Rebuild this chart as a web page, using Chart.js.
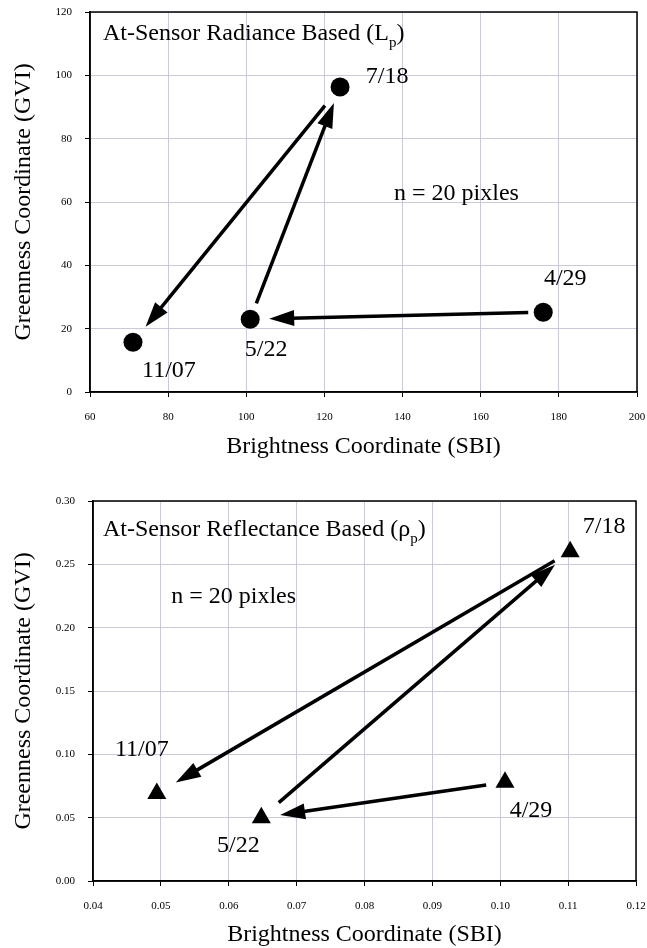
<!DOCTYPE html>
<html>
<head>
<meta charset="utf-8">
<script src="https://cdn.jsdelivr.net/npm/chart.js@4"></script>
<style>
  html, body { margin: 0; padding: 0; background: #fff; }
  .box { position: relative; width: 647px; }
</style>
</head>
<body>
<div class="box" style="height:470px"><canvas id="radiance" width="647" height="470"></canvas></div>
<div class="box" style="height:478px"><canvas id="reflectance" width="647" height="478"></canvas></div>
<script>
// acquisition dates, in time order (arrows follow this order)
const dates = ['4/29', '5/22', '7/18', '11/07'];

// top panel: at-sensor radiance
const radianceSBI = [176, 101, 124, 71];
const radianceGVI = [25.2, 23.0, 96.3, 15.7];
const radianceXTicks = ['60', '80', '100', '120', '140', '160', '180', '200'];
const radianceYTicks = ['0', '20', '40', '60', '80', '100', '120'];

// bottom panel: at-sensor reflectance
const reflectanceSBI = [0.1007, 0.0648, 0.1103, 0.0494];
const reflectanceGVI = [0.078, 0.050, 0.260, 0.069];
const reflectanceXTicks = ['0.04', '0.05', '0.06', '0.07', '0.08', '0.09', '0.10', '0.11', '0.12'];
const reflectanceYTicks = ['0.00', '0.05', '0.10', '0.15', '0.20', '0.25', '0.30'];

const nText = 'n = 20 pixles';
const xTitle = 'Brightness Coordinate (SBI)';
const yTitle = 'Greenness Coordinate (GVI)';

const SERIF = '"Liberation Serif", "Times New Roman", serif';
Chart.defaults.font.family = SERIF;
Chart.defaults.color = '#000';

// arrow from p to q, leaving a gap (px) at both ends
function arrow(ctx, p, q, gap) {
    let dx = q[0] - p[0], dy = q[1] - p[1];
    let len = Math.hypot(dx, dy);
    let ux = dx / len, uy = dy / len;
    let sx = p[0] + ux * gap[0], sy = p[1] + uy * gap[0];
    let ex = q[0] - ux * gap[1], ey = q[1] - uy * gap[1];
    let head = 25, half = 8;
    let bx = ex - ux * head, by = ey - uy * head;
    ctx.beginPath();
    ctx.moveTo(sx, sy);
    ctx.lineTo(bx + ux * 3, by + uy * 3);
    ctx.stroke();
    ctx.beginPath();
    ctx.moveTo(ex, ey);
    ctx.lineTo(bx - uy * half, by + ux * half);
    ctx.lineTo(bx + uy * half, by - ux * half);
    ctx.closePath();
    ctx.fill();
}

// frame, arrows, date labels and panel captions
const annotate = {
    id: 'annotate',
    afterDraw(chart, args, opts) {
        let {ctx, chartArea: a, scales: {x, y}} = chart;
        let pts = chart.data.datasets[0].data.map(d => [x.getPixelForValue(d.x), y.getPixelForValue(d.y)]);
        ctx.save();
        ctx.strokeStyle = '#000';
        ctx.fillStyle = '#000';
        ctx.lineWidth = 1.5;
        ctx.strokeRect(a.left, a.top, a.right - a.left, a.bottom - a.top);

        ctx.lineWidth = 3.5;
        for (let i = 0; i < pts.length - 1; i++) arrow(ctx, pts[i], pts[i + 1], opts.gaps[i]);

        ctx.font = '24px ' + SERIF;
        ctx.textAlign = 'center';
        ctx.textBaseline = 'middle';
        dates.forEach((d, i) => {
            let o = opts.offsets[d];
            ctx.fillText(d, pts[i][0] + o[0], pts[i][1] + o[1]);
        });
        ctx.fillText(nText, a.left + opts.nPos[0] * (a.right - a.left), a.top + opts.nPos[1] * (a.bottom - a.top));

        // caption with subscript p
        ctx.textAlign = 'left';
        let tx = a.left + opts.titlePos[0], ty = a.top + opts.titlePos[1];
        ctx.fillText(opts.title, tx, ty);
        tx += ctx.measureText(opts.title).width;
        ctx.font = '15px ' + SERIF;
        ctx.fillText('p', tx, ty + 9);
        tx += ctx.measureText('p').width;
        ctx.font = '24px ' + SERIF;
        ctx.fillText(')', tx, ty);
        ctx.restore();
    }
};

function axis(labels, title, titlePad, tickPad, fit) {
    return {
        type: 'linear',
        min: Number(labels[0]),
        max: Number(labels[labels.length - 1]),
        afterBuildTicks: s => { s.ticks = labels.map(v => ({value: Number(v)})); },
        afterFit: s => {
            fit(s);
            // let layout.padding alone decide the plot edges
            s.paddingLeft = s.paddingRight = s.paddingTop = s.paddingBottom = 0;
        },
        ticks: {
            font: {size: 11},
            color: '#000',
            padding: tickPad,
            autoSkip: false,
            maxRotation: 0,
            callback: (v, i) => labels[i]
        },
        grid: {color: '#c9c9d9', lineWidth: 1, tickColor: '#000', tickLength: 5},
        border: {color: '#000', width: 1.5},
        title: {display: true, text: title, font: {size: 24, lineHeight: 1}, color: '#000', padding: titlePad}
    };
}

function makeChart(id, cfg) {
    return new Chart(document.getElementById(id), {
        type: 'scatter',
        data: {
            datasets: [{
                data: cfg.xs.map((v, i) => ({x: v, y: cfg.ys[i]})),
                pointStyle: cfg.marker,
                pointRadius: cfg.radius,
                backgroundColor: '#000',
                borderColor: '#000',
                borderWidth: 0
            }]
        },
        options: {
            responsive: false,
            animation: false,
            events: [],
            layout: {padding: cfg.padding},
            plugins: {
                legend: {display: false},
                tooltip: {enabled: false},
                annotate: cfg.notes
            },
            scales: {
                x: axis(cfg.xTicks, xTitle, {top: 0, bottom: cfg.xTitlePad}, 14, s => { s.height = cfg.xHeight; }),
                y: axis(cfg.yTicks, yTitle, {top: 12, bottom: 0}, 13, s => { s.width = cfg.yWidth; })
            }
        },
        plugins: [annotate]
    });
}

makeChart('radiance', {
    xs: radianceSBI, ys: radianceGVI,
    xTicks: radianceXTicks, yTicks: radianceYTicks,
    marker: 'circle', radius: 9.5,
    padding: {top: 12, right: 10, left: 0, bottom: 0},
    xHeight: 78, yWidth: 90, xTitlePad: 11,
    notes: {
        gaps: [[15, 19], [17, 17], [24, 20]],
        offsets: {'4/29': [22, -33], '5/22': [16, 31], '7/18': [47, -10], '11/07': [36, 28]},
        nPos: [0.67, 0.477],
        title: 'At-Sensor Radiance Based (L',
        titlePos: [13, 22]
    }
});

makeChart('reflectance', {
    xs: reflectanceSBI, ys: reflectanceGVI,
    xTicks: reflectanceXTicks, yTicks: reflectanceYTicks,
    marker: 'triangle', radius: 11,
    padding: {top: 31, right: 9, left: 0, bottom: 0},
    xHeight: 67, yWidth: 93, xTitlePad: 1,
    notes: {
        gaps: [[19, 19], [23, 20], [18, 22]],
        offsets: {'4/29': [26, 29], '5/22': [-23, 28], '7/18': [34, -25], '11/07': [-15, -44]},
        nPos: [0.259, 0.252],
        title: 'At-Sensor Reflectance Based (\u03C1',
        titlePos: [10, 29]
    }
});
</script>
</body>
</html>
